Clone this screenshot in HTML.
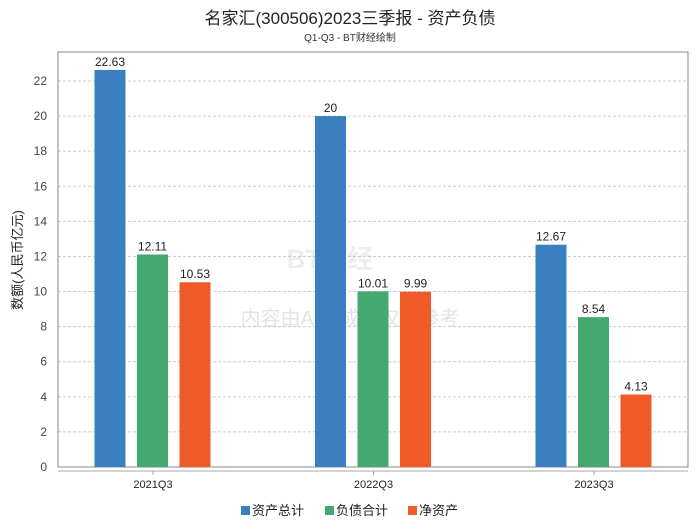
<!DOCTYPE html>
<html><head><meta charset="utf-8"><style>
body{margin:0;background:#fff;font-family:"Liberation Sans","Noto Sans CJK SC",sans-serif}
svg text{font-family:"Liberation Sans","Noto Sans CJK SC",sans-serif}
</style></head><body>
<svg id="c" width="700" height="524">
<text x="350" y="24" text-anchor="middle" font-size="17" fill="#222">名家汇(300506)2023三季报 - 资产负债</text>
<text x="350" y="41" text-anchor="middle" font-size="10" fill="#333">Q1-Q3 - BT财经绘制</text>
<text x="330" y="268" text-anchor="middle" font-size="26" font-weight="bold" fill="#ddd" opacity="0.5">BT财经</text>
<text x="350" y="325" text-anchor="middle" font-size="20" fill="#e4e4e4">内容由AI生成，仅供参考</text>
<g id="grid"></g>
<rect x="58" y="52" width="630" height="415" fill="none" stroke="#888"/>
<line x1="58" y1="471" x2="688" y2="471" stroke="#aaa"/>
<g id="bars"></g>
<text transform="translate(22,260) rotate(-90)" text-anchor="middle" font-size="13" fill="#222">数额(人民币亿元)</text>
<g>
<rect x="241" y="506" width="9" height="9" fill="#3a7fbf"/>
<text x="252" y="515" font-size="13" fill="#222">资产总计</text>
<rect x="325" y="506" width="9" height="9" fill="#45a96f"/>
<text x="336" y="515" font-size="13" fill="#222">负债合计</text>
<rect x="408" y="506" width="9" height="9" fill="#f05a28"/>
<text x="419" y="515" font-size="13" fill="#222">净资产</text>
</g>
</svg>
<script>
const categories=["2021Q3","2022Q3","2023Q3"];
const assets=[22.63,20,12.67];
const liabilities=[12.11,10.01,8.54];
const equity=[10.53,9.99,4.13];
const yTicks=[0,2,4,6,8,10,12,14,16,18,20,22];
const ns="http://www.w3.org/2000/svg";
const y=v=>467-v*386/22;
const xc=i=>153+i*220.5;
const grid=document.getElementById('grid'),bars=document.getElementById('bars');
function mk(tag,at,parent){const e=document.createElementNS(ns,tag);for(const k in at)e.setAttribute(k,at[k]);parent.appendChild(e);return e;}
yTicks.forEach(t=>{
 if(t>0){const l=mk('line',{x1:58,x2:688,y1:y(t),y2:y(t),stroke:'#ccc','stroke-dasharray':'3,2'},grid);
 
 }
 const tx=mk('text',{x:47,y:y(t)+4,'text-anchor':'end','font-size':12,fill:'#444'},grid);tx.textContent=t;
 
 
});
const series=[[assets,'#3a7fbf',-43,'assets'],[liabilities,'#45a96f',-0.5,'liabilities'],[equity,'#f05a28',42,'equity']];
categories.forEach((c,i)=>{
 const t=mk('text',{x:xc(i),y:488,'text-anchor':'middle','font-size':11,fill:'#222'},bars);t.textContent=c;
 
 
 mk('line',{x1:xc(i),x2:xc(i),y1:471,y2:475,stroke:'#aaa'},bars);
 series.forEach(([d,col,off,nm])=>{
  const cx=xc(i)+off;
  const r=mk('rect',{x:cx-15.5,y:y(d[i]),width:31,height:467-y(d[i]),fill:col},bars);
  
  
  const lb=mk('text',{x:cx,y:y(d[i])-4,'text-anchor':'middle','font-size':12,fill:'#222'},bars);lb.textContent=d[i];
  
  
 });
});
</script>
</body></html>
